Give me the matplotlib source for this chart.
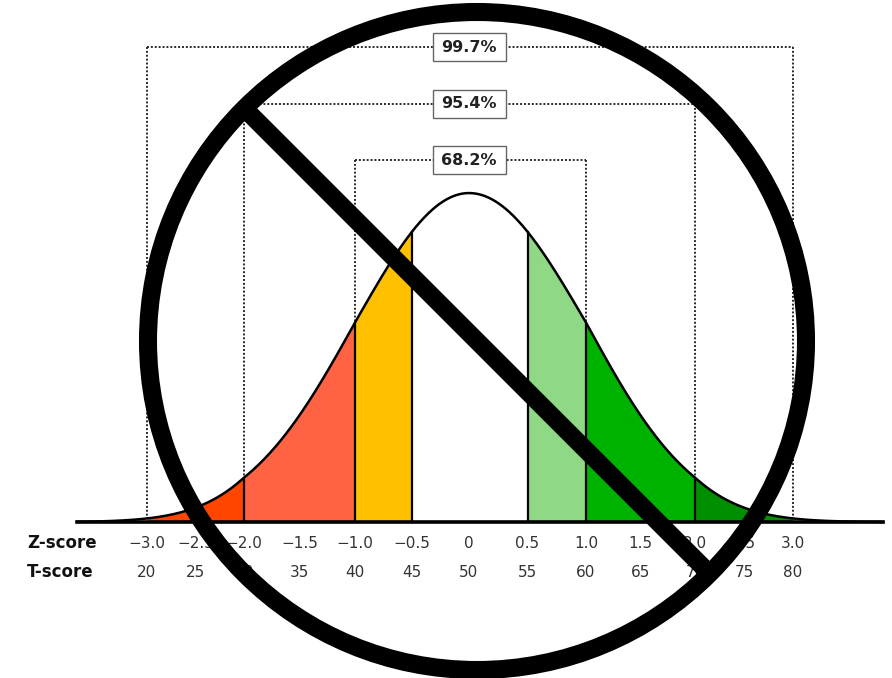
import numpy as np
import matplotlib
matplotlib.use('Agg')
import matplotlib.pyplot as plt
from matplotlib.patches import Circle, Rectangle
from matplotlib.transforms import blended_transform_factory

# data
z_ticks = [-3.0, -2.5, -2.0, -1.5, -1.0, -0.5, 0, 0.5, 1.0, 1.5, 2.0, 2.5, 3.0]
t_scores = [20, 25, 30, 35, 40, 45, 50, 55, 60, 65, 70, 75, 80]
band_edges = [(-3.0, -2.0), (-2.0, -1.0), (-1.0, -0.5), (0.5, 1.0), (1.0, 2.0), (2.0, 3.0)]
band_colors = ['#ff4500', '#ff6343', '#ffc000', '#8fd986', '#00b200', '#008f00']
dividers = [-2.0, -1.0, -0.5, 0.5, 1.0, 2.0]
bracket_sigmas = [3, 2, 1]
bracket_labels = ['99.7%', '95.4%', '68.2%']
bracket_heights = [0.576, 0.507, 0.439]

# the original artwork is hand-drawn, spacing per sigma is slightly uneven
warp_z = [-4.515, -3, -2, -1, 0, 1, 2, 3, 4.01]
warp_px = [0, 147, 244, 355, 469, 586, 695, 793, 892]


def fwd(v):
    return np.interp(v, warp_z, warp_px)


def inv(v):
    return np.interp(v, warp_px, warp_z)


def pdf(z):
    return np.exp(-z ** 2 / 2) / np.sqrt(2 * np.pi)


def fmt(v):
    s = '%.1f' % abs(v) if v != 0 else '0'
    return ('\u2212' + s) if v < 0 else s


fig = plt.figure(figsize=(8.92, 6.78), dpi=100)
ax = fig.add_axes([0, 0, 1, 1])
ax.set_xscale('function', functions=(fwd, inv))
ax.set_xlim(warp_z[0], warp_z[-1])
ax.set_ylim(-0.189, 0.633)
ax.axis('off')

x = np.linspace(-3.72, 3.92, 800)
y = pdf(x)

for (a, b), c in zip(band_edges, band_colors):
    xs = np.linspace(a, b, 200)
    ax.fill_between(xs, 0, pdf(xs), color=c, lw=0, zorder=1)

for d in dividers:
    ax.plot([d, d], [0, pdf(d)], color='black', lw=1.6, zorder=3)

ax.plot(x, y, color='black', lw=1.8, zorder=4)
ax.plot([x[0], x[-1]], [0, 0], color='black', lw=2.6, zorder=4)

# brackets
for s, lab, h in zip(bracket_sigmas, bracket_labels, bracket_heights):
    dots = dict(color='#2a2a2a', lw=1.4, ls=(0, (1, 1)), zorder=2)
    ax.plot([-s, s], [h, h], **dots)
    ax.plot([-s, -s], [h, pdf(s)], **dots)
    ax.plot([s, s], [h, pdf(s)], **dots)
    ax.add_patch(Rectangle((-0.32, h - 0.017), 0.64, 0.034, facecolor='white',
                           edgecolor='#666666', lw=1.0, zorder=5))
    ax.text(0, h, lab, ha='center', va='center', fontsize=11.5, fontweight='bold',
            color='#222222', zorder=6)

# score rows
lt = blended_transform_factory(ax.transAxes, ax.transData)
ax.text(0.030, -0.0255, 'Z-score', transform=lt, ha='left', va='center', fontsize=12,
        fontweight='bold', color='#111111')
ax.text(0.030, -0.0606, 'T-score', transform=lt, ha='left', va='center', fontsize=12,
        fontweight='bold', color='#111111')
for zv, tv in zip(z_ticks, t_scores):
    ax.text(zv, -0.0255, fmt(zv), ha='center', va='center', fontsize=11, color='#333333')
    ax.text(zv, -0.0606, str(tv), ha='center', va='center', fontsize=11, color='#333333')

# "no" sign overlay in pixel coordinates
ov = fig.add_axes([0, 0, 1, 1])
ov.set_xlim(0, 892)
ov.set_ylim(678, 0)
ov.axis('off')
ov.patch.set_alpha(0)
ov.add_patch(Circle((477, 341), 329, fill=False, edgecolor='black', lw=13, zorder=10))
ov.plot([244, 710], [108, 574], color='black', lw=13, solid_capstyle='butt', zorder=10)

fig.savefig('out.png', dpi=100)
